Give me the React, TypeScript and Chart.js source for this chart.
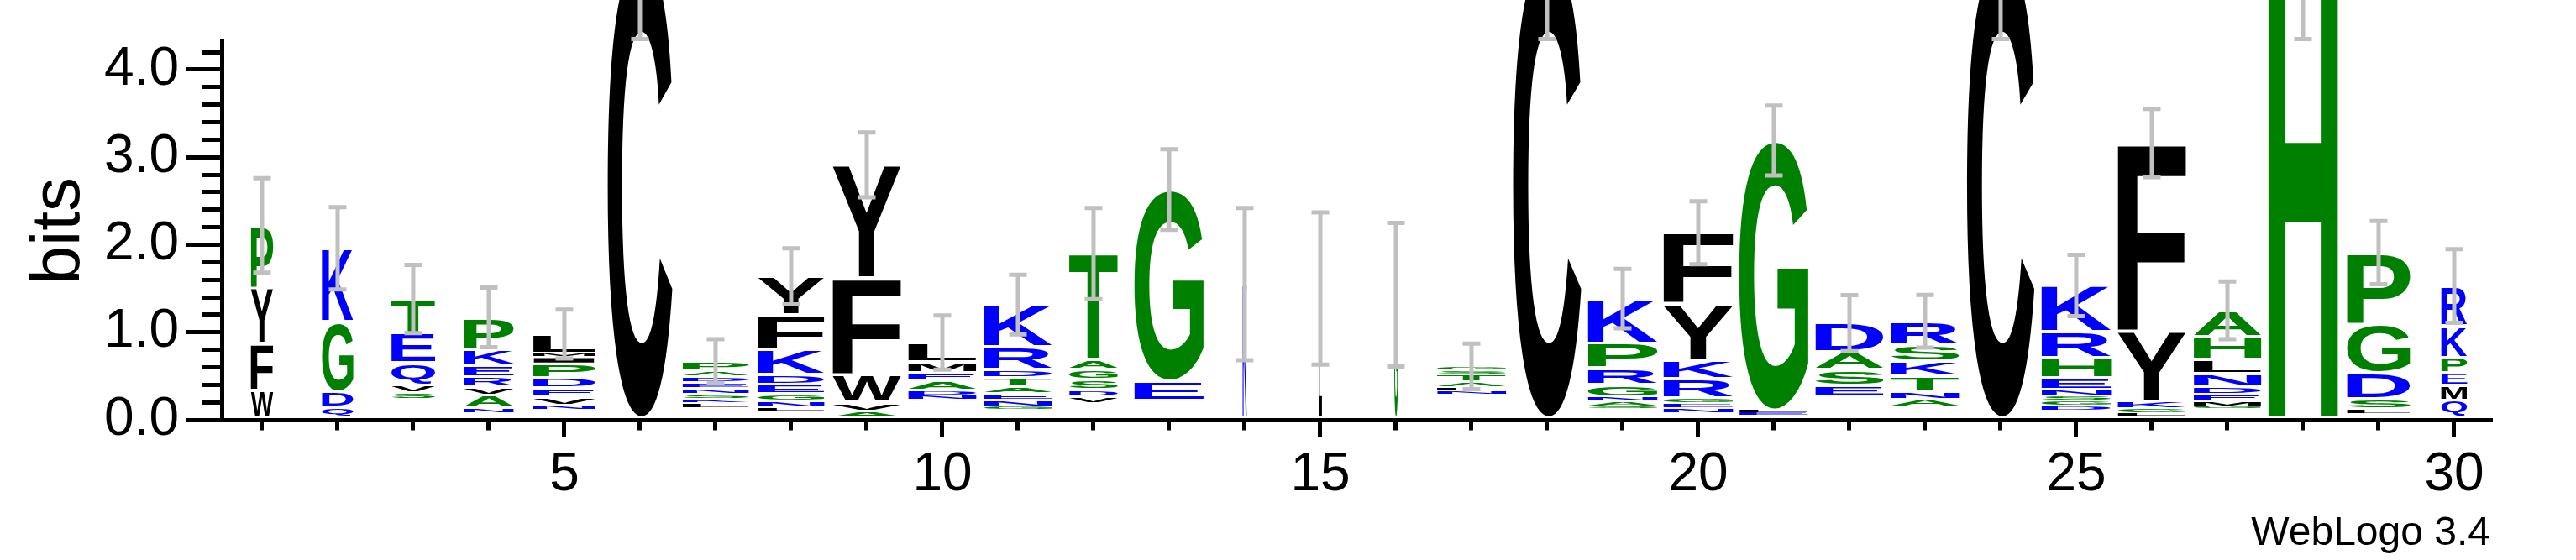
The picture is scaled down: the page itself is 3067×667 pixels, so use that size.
import React, { useEffect, useRef } from "react";
import { Chart, registerables } from "chart.js";

Chart.register(...registerables);

// ---------- data ----------
const positions: number[] = [1, 2, 3, 4, 5, 6, 7, 8, 9, 10, 11, 12, 13, 14, 15, 16, 17, 18, 19, 20, 21, 22, 23, 24, 25, 26, 27, 28, 29, 30];
const xTickLabels: number[] = [5, 10, 15, 20, 25, 30];
const yTicks: number[] = [0, 0.2, 0.4, 0.6, 0.8, 1, 1.2, 1.4, 1.6, 1.8, 2, 2.2, 2.4, 2.6, 2.8, 3, 3.2, 3.4, 3.6, 3.8, 4, 4.2];
const yTickLabels: number[] = [0, 1, 2, 3, 4];
const yMaxBits = 4.32;

// letters of each stack, bottom -> top
const stackLetters: string[] = [
  "WFYP", "QDGK", "SVQET", "NAVREKP", "NVEDPIML", "C", "LKSNEDAP", "LNGEDKFY", "AVWFY", "NDAEML",
  "GNEATDRK", "VDSGAT", "EG", "K", "L", "G", "NLATSG", "C", "SANGRPK", "NEGRKYF",
  "ELG", "ESAD", "ANTKSR", "C", "DGSNEHRK", "LGKYF", "GMEDNLHA", "H", "LSDGP", "QMEPKR",
];
// bits of each letter, bottom -> top
const stackBits: number[][] = [
  [0.31, 0.53, 0.64, 0.71],
  [0.11, 0.18, 0.80, 0.84],
  [0.08, 0.09, 0.25, 0.34, 0.39],
  [0.05, 0.15, 0.09, 0.12, 0.13, 0.19, 0.36],
  [0.05, 0.09, 0.10, 0.12, 0.16, 0.08, 0.04, 0.22],
  [5.28],
  [0.065, 0.04, 0.065, 0.065, 0.065, 0.065, 0.06, 0.115],
  [0.04, 0.075, 0.085, 0.105, 0.115, 0.28, 0.40, 0.44],
  [0.067, 0.10, 0.32, 1.10, 1.295],
  [0.048, 0.058, 0.105, 0.096, 0.125, 0.22],
  [0.04, 0.067, 0.077, 0.077, 0.105, 0.096, 0.26, 0.48],
  [0.077, 0.077, 0.115, 0.115, 0.115, 1.21],
  [0.22, 2.19],
  [1.53],
  [1.48],
  [1.41],
  [0.04, 0.045, 0.06, 0.085, 0.045, 0.045],
  [5.28],
  [0.03, 0.058, 0.048, 0.144, 0.19, 0.28, 0.51],
  [0.058, 0.058, 0.058, 0.22, 0.21, 0.64, 0.815],
  [0.03, 0.03, 3.08],
  [0.125, 0.18, 0.20, 0.33],
  [0.086, 0.096, 0.17, 0.17, 0.19, 0.27],
  [5.28],
  [0.058, 0.058, 0.058, 0.067, 0.134, 0.23, 0.30, 0.53],
  [0.038, 0.048, 0.086, 0.80, 2.15],
  [0.03, 0.048, 0.086, 0.086, 0.153, 0.163, 0.26, 0.30],
  [5.28],
  [0.058, 0.115, 0.30, 0.55, 0.82],
  [0.19, 0.17, 0.144, 0.18, 0.355, 0.46],
];
// combined bits of residues too small to be drawn (bottom of each stack)
const otherBits: number[] = [
  0.03, 0.03, 0.23, 0.08, 0.12, 0.02, 0.13, 0.10, 0.03, 0.23,
  0.115, 0.19, 0.22, 0.02, 0.02, 0.02, 0.29, 0.02, 0.125, 0.077,
  0.05, 0.27, 0.144, 0.02, 0.10, 0.04, 0.125, 0.02, 0.067, 0.03,
];
// error bar half-lengths (bits)
const errorBits: number[] = [
  0.54, 0.47, 0.39, 0.34, 0.28, 0.95, 0.25, 0.32, 0.37, 0.31,
  0.34, 0.52, 0.46, 0.87, 0.87, 0.82, 0.26, 0.95, 0.34, 0.36,
  0.40, 0.32, 0.30, 0.95, 0.35, 0.39, 0.33, 0.95, 0.36, 0.42,
];
// fraction of sequences occupying each column (stack width)
const occupancy: number[] = [
  0.32, 0.45, 0.63, 0.72, 0.90, 0.93, 0.95, 0.95, 0.98, 0.98,
  0.98, 0.70, 1.0, 0.06, 0.045, 0.05, 0.99, 0.98, 1.0, 1.0,
  1.0, 0.98, 0.98, 0.97, 1.0, 0.98, 0.97, 1.0, 0.91, 0.37,
];

// ---------- styles ----------
const BLACK_SET = "CFYWLMVI";
const BLUE_SET = "KRDEQN";
const COL_BLACK = "#000000";
const COL_BLUE = "#0000ff";
const COL_GREEN = "#008000";
const ERR_COLOR = "#c0c0c0";
const FONT_FAMILY = '"Liberation Sans", Arial, Helvetica, sans-serif';

function letterColor(ch: string): string {
  if (BLACK_SET.includes(ch)) return COL_BLACK;
  if (BLUE_SET.includes(ch)) return COL_BLUE;
  return COL_GREEN;
}

function isMajor(v: number, list: number[]): boolean {
  return list.some((t) => Math.abs(t - v) < 1e-6);
}

function drawGlyph(ctx: CanvasRenderingContext2D, ch: string, x0: number, y0: number, w: number, h: number, color: string) {
  ctx.save();
  ctx.font = `bold 200px ${FONT_FAMILY}`;
  ctx.textAlign = "left";
  ctx.textBaseline = "alphabetic";
  const m = ctx.measureText(ch);
  const inkW = m.actualBoundingBoxLeft + m.actualBoundingBoxRight;
  const inkH = m.actualBoundingBoxAscent + m.actualBoundingBoxDescent;
  if (inkW <= 0 || inkH <= 0) { ctx.restore(); return; }
  ctx.translate(x0, y0);
  ctx.scale(w / inkW, h / inkH);
  ctx.fillStyle = color;
  ctx.fillText(ch, m.actualBoundingBoxLeft, m.actualBoundingBoxAscent);
  ctx.restore();
}

const logoPlugin = {
  id: "seqLogo",
  afterDatasetsDraw(chart: any) {
    const ctx: CanvasRenderingContext2D = chart.ctx;
    const xs = chart.scales.x;
    const ys = chart.scales.y;
    // letters
    chart.data.datasets.forEach((_ds: any, di: number) => {
      if (di === 0) return; // undrawn residues
      const meta = chart.getDatasetMeta(di);
      meta.data.forEach((el: any, i: number) => {
        const ch = stackLetters[i][di - 1];
        if (!ch) return;
        const p = el.getProps(["x", "y", "base", "width"], true);
        const top = Math.min(p.y, p.base);
        const bot = Math.max(p.y, p.base);
        const h = bot - top;
        if (h < 0.8) return;
        const mg = Math.min(2, h * 0.18);
        const w = p.width * occupancy[i];
        drawGlyph(ctx, ch, p.x - w / 2, top + mg, w, h - 2 * mg, letterColor(ch));
      });
    });
    // error bars
    ctx.save();
    ctx.strokeStyle = ERR_COLOR;
    ctx.lineWidth = 5;
    positions.forEach((pos, i) => {
      const total = otherBits[i] + stackBits[i].reduce((a, b) => a + b, 0);
      const cx = xs.getPixelForValue(pos);
      const yLo = ys.getPixelForValue(total - errorBits[i]);
      const yHi = ys.getPixelForValue(total + errorBits[i]);
      ctx.beginPath();
      ctx.moveTo(cx, yHi);
      ctx.lineTo(cx, yLo);
      ctx.moveTo(cx - 10.5, yHi);
      ctx.lineTo(cx + 10.5, yHi);
      ctx.moveTo(cx - 10.5, yLo);
      ctx.lineTo(cx + 10.5, yLo);
      ctx.stroke();
    });
    ctx.restore();
  },
  afterDraw(chart: any) {
    const ctx: CanvasRenderingContext2D = chart.ctx;
    const area = chart.chartArea;
    ctx.save();
    ctx.font = `48px ${FONT_FAMILY}`;
    ctx.fillStyle = "#000";
    ctx.textAlign = "right";
    ctx.textBaseline = "alphabetic";
    ctx.fillText("WebLogo 3.4", area.right - 2, 649);
    ctx.restore();
  },
};

export default function App() {
  const canvasRef = useRef<HTMLCanvasElement | null>(null);

  useEffect(() => {
    const canvas = canvasRef.current;
    if (!canvas) return;
    const depth = Math.max(...stackLetters.map((s) => s.length));
    const common = {
      backgroundColor: "rgba(0,0,0,0)",
      borderWidth: 0,
      stack: "logo",
      barPercentage: 0.92,
      categoryPercentage: 1.0,
    };
    const datasets: any[] = [
      { label: "other", data: positions.map((p, i) => ({ x: p, y: otherBits[i] })), ...common },
    ];
    for (let r = 0; r < depth; r++) {
      datasets.push({
        label: `rank ${r + 1}`,
        data: positions.map((p, i) => ({ x: p, y: stackBits[i][r] ?? 0 })),
        ...common,
      });
    }
    const tickFont = { family: FONT_FAMILY, size: 64 };
    const chart = new Chart(canvas, {
      type: "bar",
      data: { datasets },
      options: {
        responsive: false,
        devicePixelRatio: 1,
        animation: false,
        events: [],
        layout: { padding: { left: 22, top: 49.6, right: 100, bottom: 0 } },
        plugins: { legend: { display: false }, tooltip: { enabled: false } },
        scales: {
          x: {
            type: "linear",
            stacked: true,
            min: 0.467,
            max: 30.5,
            offset: false,
            afterBuildTicks: (scale: any) => {
              scale.ticks = positions.map((v) => ({ value: v }));
            },
            afterFit: (scale: any) => {
              scale.height = 167;
            },
            ticks: {
              autoSkip: false,
              maxRotation: 0,
              padding: 7,
              color: "#000",
              font: tickFont,
              callback: (v: any) => (isMajor(Number(v), xTickLabels) ? String(v) : ""),
            },
            grid: {
              offset: false,
              drawOnChartArea: false,
              drawTicks: true,
              tickLength: 21,
              tickWidth: 5,
              tickColor: "#000",
              tickBorderDash: (c: any) => (isMajor(c.tick.value, xTickLabels) ? [] : [9.5, 200]),
            },
            border: { display: true, color: "#000", width: 5 },
          },
          y: {
            type: "linear",
            stacked: true,
            min: 0,
            max: yMaxBits,
            afterBuildTicks: (scale: any) => {
              scale.ticks = yTicks.map((v) => ({ value: v }));
            },
            afterFit: (scale: any) => {
              scale.width = 242;
            },
            ticks: {
              autoSkip: false,
              padding: 8,
              color: "#000",
              font: tickFont,
              callback: (v: any) => (isMajor(Number(v), yTickLabels) ? Number(v).toFixed(1) : ""),
            },
            grid: {
              drawOnChartArea: false,
              drawTicks: true,
              tickLength: 43,
              tickWidth: 5,
              tickColor: "#000",
              tickBorderDash: (c: any) => (isMajor(c.tick.value, yTickLabels) ? [] : [0, 20, 25, 200]),
            },
            border: { display: true, color: "#000", width: 5 },
            title: {
              display: true,
              text: "bits",
              color: "#000",
              padding: 0,
              font: { family: FONT_FAMILY, size: 82 },
            },
          },
        },
      } as any,
      plugins: [logoPlugin as any],
    });
    return () => chart.destroy();
  }, []);

  return (
    <div style={{ position: "absolute", left: 0, top: 0, width: 3067, height: 667, background: "#fff" }}>
      <canvas ref={canvasRef} width={3067} height={667} />
    </div>
  );
}
